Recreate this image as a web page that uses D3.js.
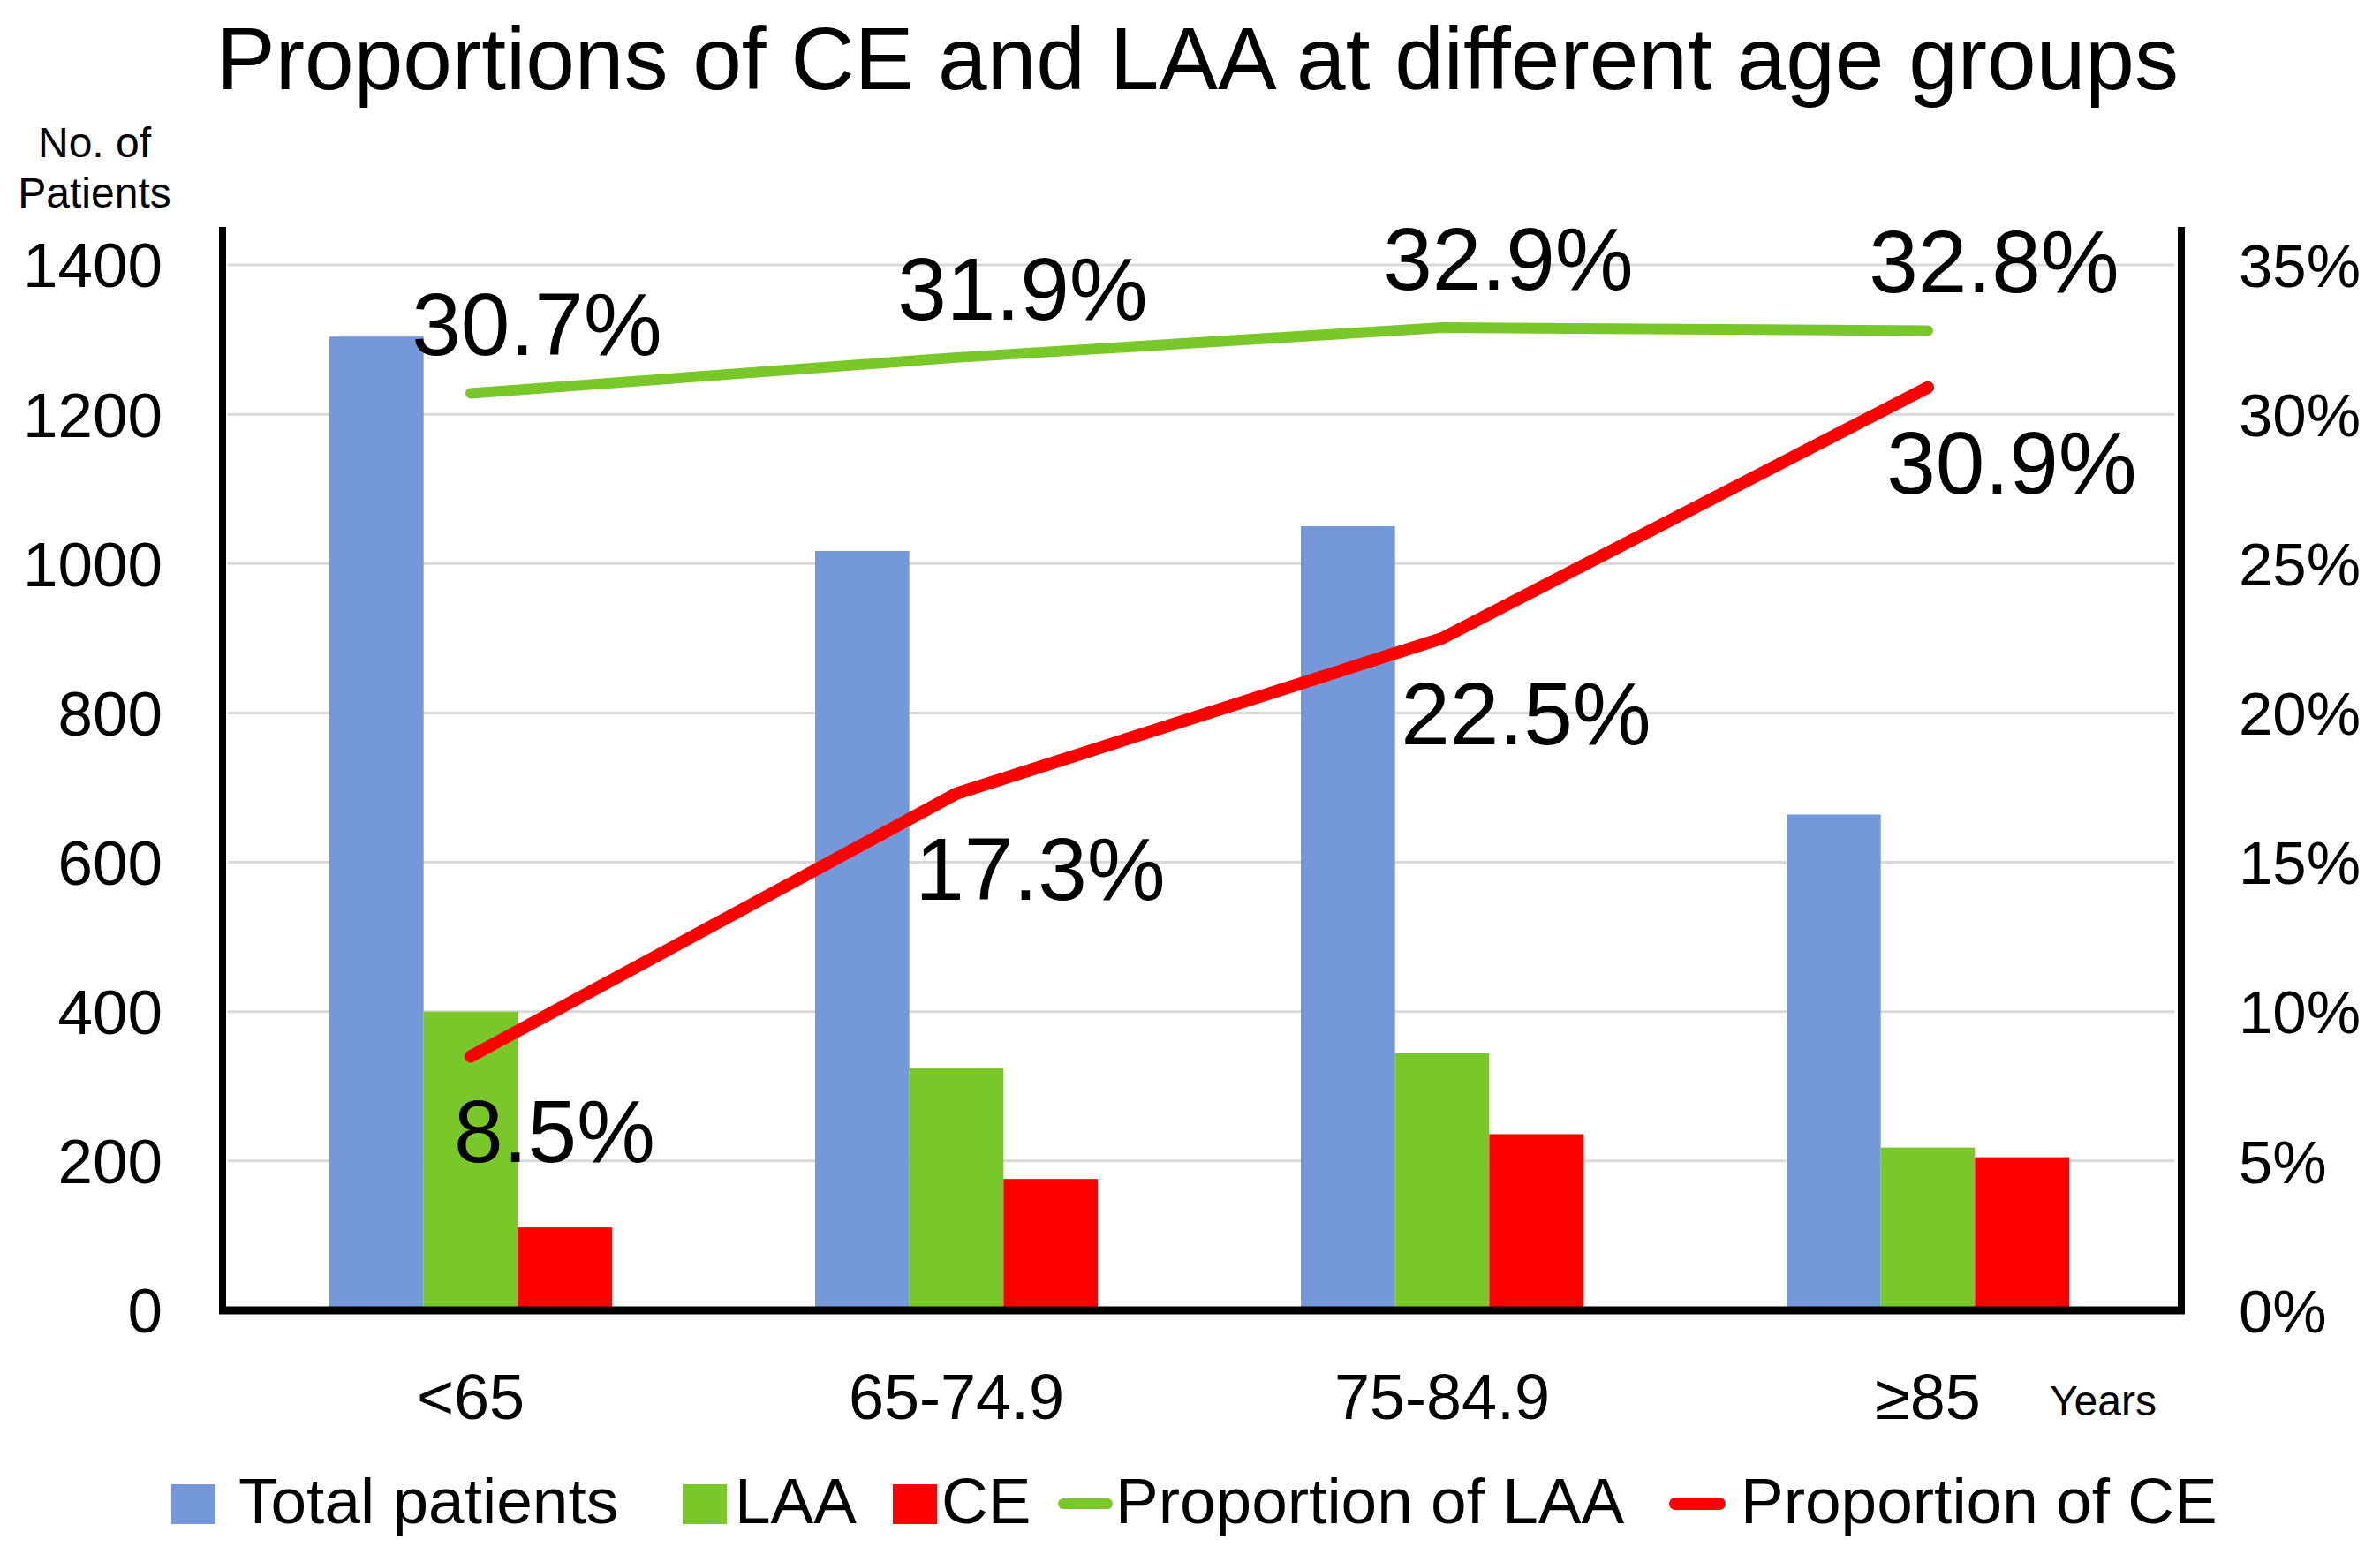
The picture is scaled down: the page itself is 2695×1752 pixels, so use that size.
<!DOCTYPE html>
<html>
<head>
<meta charset="utf-8">
<script src="https://cdn.jsdelivr.net/npm/d3@7"></script>
<style>
html,body{margin:0;padding:0;background:#fff;}
svg text{font-family:"Liberation Sans",Arial,sans-serif;fill:#000;}
</style>
</head>
<body>
<svg id="chart" width="2695" height="1752"></svg>
<script>
// ---- data ----
const categories = ["<65", "65-74.9", "75-84.9", "\u226585"];
const totalPatients = [1304, 1017, 1050, 664];
const laaCounts = [400, 324, 345, 218];
const ceCounts = [111, 176, 236, 205];
const propLAA = [30.7, 31.9, 32.9, 32.8];
const propCE = [8.5, 17.3, 22.5, 30.9];
const leftTicks = [0, 200, 400, 600, 800, 1000, 1200, 1400];
const rightTicks = [0, 5, 10, 15, 20, 25, 30, 35];
const seriesNames = ["Total patients", "LAA", "CE"];
const lineNames = ["Proportion of LAA", "Proportion of CE"];

// ---- layout ----
const W = 2695, H = 1752;
const plotL = 252, plotR = 2470, plotTop = 257, y0 = 1484, yMaxPix = 300;
const colors = {"Total patients": "#7599D8", "LAA": "#7AC72A", "CE": "#FF0000",
  "Proportion of LAA": "#7AC72A", "Proportion of CE": "#FF0000"};

const svg = d3.select("#chart");

const x0 = d3.scaleBand().domain(categories).range([258, 2458]);
const bw = x0.bandwidth();
const x1 = d3.scaleBand().domain(seriesNames).range([bw / 2 - 160, bw / 2 + 160]);
const yL = d3.scaleLinear().domain([0, 1400]).range([y0, yMaxPix]);
const yR = d3.scaleLinear().domain([0, 35]).range([y0, yMaxPix]);

// title
svg.append("text").attr("x", 1356).attr("y", 101).attr("text-anchor", "middle")
  .style("font-size", "100px").text("Proportions of CE and LAA at different age groups");

// left axis title
const yt = svg.append("text").attr("text-anchor", "middle").style("font-size", "48px");
yt.append("tspan").attr("x", 107).attr("y", 178).text("No. of");
yt.append("tspan").attr("x", 107).attr("y", 235).text("Patients");

// gridlines
svg.append("g").selectAll("line").data(leftTicks.slice(1)).join("line")
  .attr("x1", plotL + 6).attr("x2", plotR - 8)
  .attr("y1", d => yL(d)).attr("y2", d => yL(d))
  .attr("stroke", "#d9d9d9").attr("stroke-width", 3);

// left ticks
const gL = svg.append("g").attr("transform", "translate(184,0)")
  .call(d3.axisLeft(yL).tickValues(leftTicks).tickSize(0).tickPadding(0).tickFormat(d3.format("d")));
gL.select(".domain").remove();
gL.selectAll("text").style("font-size", "71px").attr("dy", "0.35em");

// right ticks
const gR = svg.append("g").attr("transform", "translate(2535,0)")
  .call(d3.axisRight(yR).tickValues(rightTicks).tickSize(0).tickPadding(0).tickFormat(d => d + "%"));
gR.select(".domain").remove();
gR.selectAll("text").style("font-size", "69px").attr("dy", "0.35em");

// bars
const barData = categories.map((c, i) => ({
  cat: c,
  vals: [
    {s: "Total patients", v: totalPatients[i]},
    {s: "LAA", v: laaCounts[i]},
    {s: "CE", v: ceCounts[i]}
  ]
}));
svg.append("g").selectAll("g").data(barData).join("g")
  .attr("transform", d => `translate(${x0(d.cat)},0)`)
  .selectAll("rect").data(d => d.vals).join("rect")
  .attr("x", d => x1(d.s)).attr("width", x1.bandwidth())
  .attr("y", d => yL(d.v)).attr("height", d => yL(0) - yL(d.v))
  .attr("fill", d => colors[d.s]);

// axis lines
svg.append("line").attr("x1", plotL).attr("x2", plotL).attr("y1", plotTop).attr("y2", y0 + 4)
  .attr("stroke", "#000").attr("stroke-width", 8);
svg.append("line").attr("x1", plotR).attr("x2", plotR).attr("y1", plotTop).attr("y2", y0 + 4)
  .attr("stroke", "#000").attr("stroke-width", 8);
svg.append("line").attr("x1", plotL - 4).attr("x2", plotR + 4).attr("y1", y0).attr("y2", y0)
  .attr("stroke", "#000").attr("stroke-width", 9);

// lines
const cx = c => x0(c) + bw / 2;
const lineGen = d3.line().x(d => cx(d.c)).y(d => yR(d.v));
const laaPts = categories.map((c, i) => ({c, v: propLAA[i]}));
const cePts = categories.map((c, i) => ({c, v: propCE[i]}));
svg.append("path").datum(laaPts).attr("d", lineGen).attr("fill", "none")
  .attr("stroke", colors["Proportion of LAA"]).attr("stroke-width", 12)
  .attr("stroke-linecap", "round").attr("stroke-linejoin", "round");
svg.append("path").datum(cePts).attr("d", lineGen).attr("fill", "none")
  .attr("stroke", colors["Proportion of CE"]).attr("stroke-width", 14)
  .attr("stroke-linecap", "round").attr("stroke-linejoin", "round");

// data labels
svg.append("g").selectAll("text").data(laaPts).join("text")
  .attr("x", d => cx(d.c) + 75).attr("y", d => yR(d.v) - 43)
  .attr("text-anchor", "middle").style("font-size", "100px")
  .text(d => d.v.toFixed(1) + "%");
svg.append("g").selectAll("text").data(cePts).join("text")
  .attr("x", d => cx(d.c) + 95).attr("y", d => yR(d.v) + 120)
  .attr("text-anchor", "middle").style("font-size", "100px")
  .text(d => d.v.toFixed(1) + "%");

// x labels
svg.append("g").selectAll("text").data(categories).join("text")
  .attr("x", d => cx(d)).attr("y", 1607).attr("text-anchor", "middle")
  .style("font-size", "72px").text(d => d);
svg.append("text").attr("x", 2321).attr("y", 1603).style("font-size", "48px").text("Years");

// legend
const legendX = [194, 773, 1011, 1198, 1891];
const legendTextX = [270, 832, 1066, 1263, 1971];
const legendItems = seriesNames.map(s => ({name: s, type: "rect"}))
  .concat(lineNames.map(s => ({name: s, type: "line"})));
const lg = svg.append("g");
legendItems.forEach((d, i) => {
  if (d.type === "rect") {
    lg.append("rect").attr("x", legendX[i]).attr("y", 1681).attr("width", 50).attr("height", 45)
      .attr("fill", colors[d.name]);
  } else {
    lg.append("line").attr("x1", legendX[i] + 6).attr("x2", legendX[i] + 56)
      .attr("y1", 1703).attr("y2", 1703)
      .attr("stroke", colors[d.name]).attr("stroke-width", d.name === "Proportion of CE" ? 14 : 12)
      .attr("stroke-linecap", "round");
  }
  lg.append("text").attr("x", legendTextX[i]).attr("y", 1725)
    .style("font-size", "73px").text(d.name);
});
</script>
</body>
</html>
